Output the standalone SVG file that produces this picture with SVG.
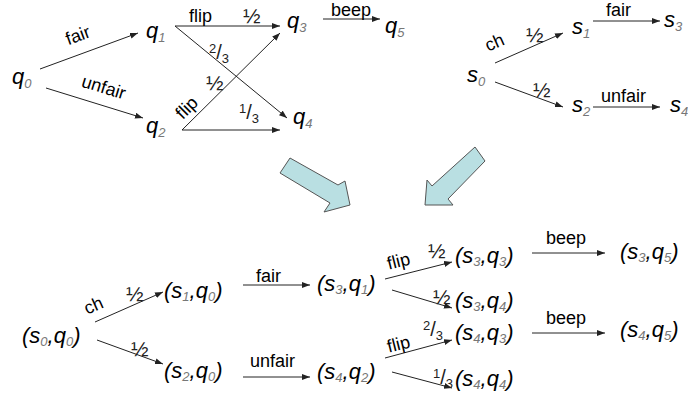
<svg xmlns="http://www.w3.org/2000/svg" width="688" height="399" viewBox="0 0 688 399">
<defs>
<marker id="ah" markerWidth="9" markerHeight="7" refX="8" refY="3" orient="auto" markerUnits="userSpaceOnUse">
<path d="M0,0 L8,3 L0,6 z" fill="#222"/>
</marker>
<style>
.st{font-family:"Liberation Sans",Arial,sans-serif;font-style:italic;font-size:22px;fill:#000}
.sb{font-size:13px;fill:#777}
.lb{font-family:"Liberation Sans",Arial,sans-serif;font-size:18px;fill:#000}
.fr{font-family:"Liberation Sans",Arial,sans-serif;font-size:20px;fill:#222}
.hf{font-family:"Liberation Sans",Arial,sans-serif;font-size:21px;fill:#222}
.fs{font-size:13px}
.ln{stroke:#222;stroke-width:1;fill:none;marker-end:url(#ah)}
.big{fill:#b9dfe2;stroke:#555;stroke-width:1}
</style>
</defs>
<rect width="688" height="399" fill="#fff"/>

<g id="connectors">
<line class="ln" x1="40" y1="69" x2="138" y2="33"/>
<line class="ln" x1="46" y1="88" x2="143" y2="118"/>
<line class="ln" x1="175" y1="26" x2="280" y2="26"/>
<line class="ln" x1="175" y1="26" x2="287" y2="118"/>
<line class="ln" x1="182" y1="130" x2="280" y2="33"/>
<line class="ln" x1="182" y1="130" x2="280" y2="130"/>
<line class="ln" x1="323" y1="19" x2="380" y2="19"/>
<line class="ln" x1="495" y1="63" x2="563" y2="33"/>
<line class="ln" x1="495" y1="82" x2="563" y2="107"/>
<line class="ln" x1="593" y1="21" x2="660" y2="21"/>
<line class="ln" x1="593" y1="107" x2="660" y2="107"/>
<line class="ln" x1="95" y1="322" x2="163" y2="292"/>
<line class="ln" x1="97" y1="340" x2="163" y2="364"/>
<line class="ln" x1="243" y1="285" x2="310" y2="285"/>
<line class="ln" x1="243" y1="377" x2="310" y2="377"/>
<line class="ln" x1="385" y1="279" x2="452" y2="262"/>
<line class="ln" x1="392" y1="290" x2="452" y2="308"/>
<line class="ln" x1="385" y1="358" x2="452" y2="340"/>
<line class="ln" x1="392" y1="372" x2="452" y2="388"/>
<line class="ln" x1="532" y1="253" x2="605" y2="253"/>
<line class="ln" x1="532" y1="333" x2="605" y2="333"/>
</g>

<g id="labels">
<text class="lb" text-anchor="middle" transform="translate(80,41) rotate(-20)">fair</text>
<text class="lb" text-anchor="middle" transform="translate(102,93) rotate(17)">unfair</text>
<text class="lb" x="189" y="22">flip</text>
<text class="hf" x="243" y="23">½</text>
<text class="fr" x="209" y="59"><tspan class="fs" dy="-6">2</tspan><tspan dy="6">/</tspan><tspan class="fs" dy="4">3</tspan></text>
<text class="lb" text-anchor="middle" transform="translate(191,112) rotate(-45)">flip</text>
<text class="hf" x="206" y="90">½</text>
<text class="fr" x="239" y="119"><tspan class="fs" dy="-6">1</tspan><tspan dy="6">/</tspan><tspan class="fs" dy="4">3</tspan></text>
<text class="lb" x="331" y="16">beep</text>
<text class="lb" text-anchor="middle" transform="translate(497,48) rotate(-24)">ch</text>
<text class="hf" x="526" y="42">½</text>
<text class="hf" x="533" y="97">½</text>
<text class="lb" x="606" y="16">fair</text>
<text class="lb" x="601" y="102">unfair</text>

<text class="lb" text-anchor="middle" transform="translate(96,311) rotate(-24)">ch</text>
<text class="hf" x="126" y="301">½</text>
<text class="hf" x="131" y="356">½</text>
<text class="lb" x="256" y="282">fair</text>
<text class="lb" x="250" y="367">unfair</text>
<text class="lb" text-anchor="middle" transform="translate(400,267) rotate(-14)">flip</text>
<text class="hf" x="428" y="258">½</text>
<text class="hf" x="433" y="304">½</text>
<text class="lb" text-anchor="middle" transform="translate(400,350) rotate(-14)">flip</text>
<text class="fr" x="423" y="336"><tspan class="fs" dy="-6">2</tspan><tspan dy="6">/</tspan><tspan class="fs" dy="4">3</tspan></text>
<text class="fr" x="433" y="384"><tspan class="fs" dy="-6">1</tspan><tspan dy="6">/</tspan><tspan class="fs" dy="4">3</tspan></text>
<text class="lb" x="546" y="244">beep</text>
<text class="lb" x="546" y="324">beep</text>
</g>

<g id="big-arrows">
<polygon class="big" points="290,158 338,185 345,181 350,205 324,212 330,203 280,173"/>
<polygon class="big" points="475,147 485,161 448,199 453,205 425,205 427,180 432,186"/>
</g>

<g id="q0"><text class="st" x="12" y="84">q<tspan class="sb" dy="4">0</tspan></text></g>
<g id="q1"><text class="st" x="146" y="38">q<tspan class="sb" dy="4">1</tspan></text></g>
<g id="q2"><text class="st" x="146" y="133">q<tspan class="sb" dy="4">2</tspan></text></g>
<g id="q3"><text class="st" x="287" y="28">q<tspan class="sb" dy="4">3</tspan></text></g>
<g id="q4"><text class="st" x="293" y="124">q<tspan class="sb" dy="4">4</tspan></text></g>
<g id="q5"><text class="st" x="385" y="33">q<tspan class="sb" dy="4">5</tspan></text></g>
<g id="s0"><text class="st" x="467" y="82">s<tspan class="sb" dy="4">0</tspan></text></g>
<g id="s1"><text class="st" x="572" y="34">s<tspan class="sb" dy="4">1</tspan></text></g>
<g id="s2"><text class="st" x="572" y="112">s<tspan class="sb" dy="4">2</tspan></text></g>
<g id="s3"><text class="st" x="664" y="27">s<tspan class="sb" dy="4">3</tspan></text></g>
<g id="s4"><text class="st" x="670" y="112">s<tspan class="sb" dy="4">4</tspan></text></g>

<g id="s0q0"><text class="st" x="22" y="343">(s<tspan class="sb" dy="3">0</tspan><tspan dy="-3">,q</tspan><tspan class="sb" dy="3">0</tspan><tspan dy="-3">)</tspan></text></g>
<g id="s1q0"><text class="st" x="164" y="298">(s<tspan class="sb" dy="3">1</tspan><tspan dy="-3">,q</tspan><tspan class="sb" dy="3">0</tspan><tspan dy="-3">)</tspan></text></g>
<g id="s2q0"><text class="st" x="164" y="378">(s<tspan class="sb" dy="3">2</tspan><tspan dy="-3">,q</tspan><tspan class="sb" dy="3">0</tspan><tspan dy="-3">)</tspan></text></g>
<g id="s3q1"><text class="st" x="317" y="291">(s<tspan class="sb" dy="3">3</tspan><tspan dy="-3">,q</tspan><tspan class="sb" dy="3">1</tspan><tspan dy="-3">)</tspan></text></g>
<g id="s4q2"><text class="st" x="317" y="379">(s<tspan class="sb" dy="3">4</tspan><tspan dy="-3">,q</tspan><tspan class="sb" dy="3">2</tspan><tspan dy="-3">)</tspan></text></g>
<g id="s3q3"><text class="st" x="455" y="263">(s<tspan class="sb" dy="3">3</tspan><tspan dy="-3">,q</tspan><tspan class="sb" dy="3">3</tspan><tspan dy="-3">)</tspan></text></g>
<g id="s3q4"><text class="st" x="455" y="308">(s<tspan class="sb" dy="3">3</tspan><tspan dy="-3">,q</tspan><tspan class="sb" dy="3">4</tspan><tspan dy="-3">)</tspan></text></g>
<g id="s4q3"><text class="st" x="455" y="340">(s<tspan class="sb" dy="3">4</tspan><tspan dy="-3">,q</tspan><tspan class="sb" dy="3">3</tspan><tspan dy="-3">)</tspan></text></g>
<g id="s4q4"><text class="st" x="455" y="386">(s<tspan class="sb" dy="3">4</tspan><tspan dy="-3">,q</tspan><tspan class="sb" dy="3">4</tspan><tspan dy="-3">)</tspan></text></g>
<g id="s3q5"><text class="st" x="620" y="259">(s<tspan class="sb" dy="3">3</tspan><tspan dy="-3">,q</tspan><tspan class="sb" dy="3">5</tspan><tspan dy="-3">)</tspan></text></g>
<g id="s4q5"><text class="st" x="620" y="337">(s<tspan class="sb" dy="3">4</tspan><tspan dy="-3">,q</tspan><tspan class="sb" dy="3">5</tspan><tspan dy="-3">)</tspan></text></g>
</svg>
